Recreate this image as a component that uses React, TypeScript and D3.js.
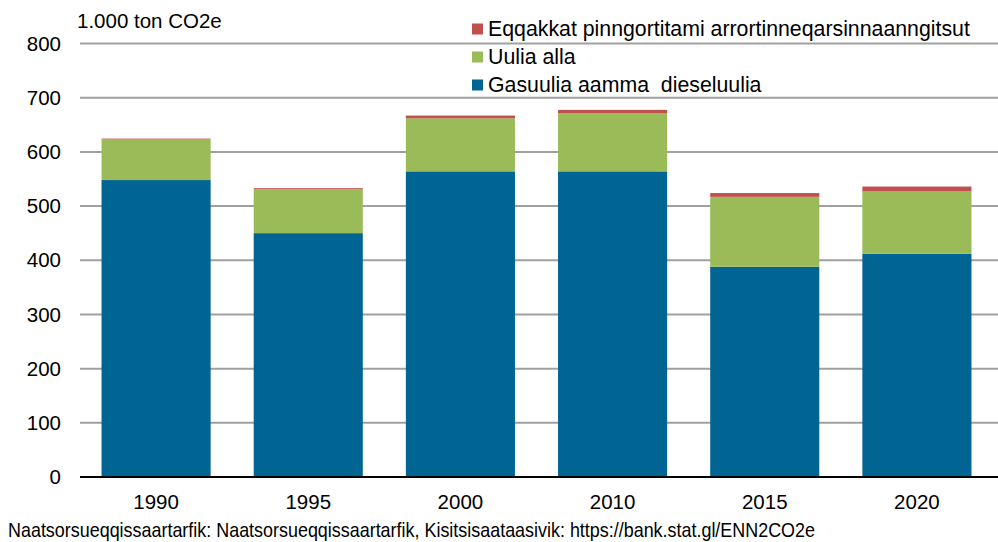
import React from "react";
import * as d3 from "d3";

const years = ["1990", "1995", "2000", "2010", "2015", "2020"];
const gasDiesel = [548, 450, 564, 564, 388, 412];
const otherOil = [75, 81, 98, 107, 129, 115];
const waste = [1.5, 2, 5, 6.5, 7, 9];
const yTicks = [0, 100, 200, 300, 400, 500, 600, 700, 800];

const seriesNames = [
  "Gasuulia aamma  dieseluulia",
  "Uulia alla",
  "Eqqakkat pinngortitami arrortinneqarsinnaanngitsut",
];
const colors = ["#006593", "#9bbb59", "#c0504d"];

const width = 998;
const height = 542;
const font = "'Liberation Sans', Arial, sans-serif";

const App: React.FC = () => {
  const rows = years.map((y, i) => ({
    year: y,
    s0: gasDiesel[i],
    s1: otherOil[i],
    s2: waste[i],
  }));
  const stack = d3.stack<any>().keys(["s0", "s1", "s2"]);
  const stacked = stack(rows);

  const x = d3
    .scaleBand()
    .domain(years)
    .range([80, 993])
    .paddingInner(0.283)
    .paddingOuter(0.1415);
  const y = d3.scaleLinear().domain([0, 800]).range([477, 43.5]);

  return (
    <svg
      width={width}
      height={height}
      style={{ position: "absolute", left: 0, top: 0, background: "#fff" }}
      fontFamily={font}
    >
      {/* gridlines */}
      {yTicks.slice(1).map((t) => (
        <line
          key={t}
          x1={80}
          x2={998}
          y1={y(t)}
          y2={y(t)}
          stroke="#a0a0a0"
          strokeWidth={2}
        />
      ))}
      {/* bars */}
      {stacked.map((layer, li) => (
        <g key={li} fill={colors[li]}>
          {layer.map((d, i) => (
            <rect
              key={i}
              x={x(years[i])}
              width={x.bandwidth()}
              y={y(d[1])}
              height={y(d[0]) - y(d[1])}
            />
          ))}
        </g>
      ))}
      {/* baseline */}
      <line x1={80} x2={998} y1={y(0)} y2={y(0)} stroke="#000" strokeWidth={2} />
      {/* y tick labels */}
      {yTicks.map((t) => (
        <text
          key={t}
          x={61}
          y={y(t)}
          dy="0.35em"
          textAnchor="end"
          fontSize={20.5}
          fill="#000"
        >
          {t}
        </text>
      ))}
      {/* x labels */}
      {years.map((yr) => (
        <text
          key={yr}
          x={(x(yr) as number) + x.bandwidth() / 2}
          y={502}
          dy="0.35em"
          textAnchor="middle"
          fontSize={20.5}
          fill="#000"
        >
          {yr}
        </text>
      ))}
      {/* unit */}
      <text x={77} y={28} fontSize={20.5} fill="#000">
        1.000 ton CO2e
      </text>
      {/* legend */}
      {[2, 1, 0].map((si, r) => (
        <g key={si} transform={`translate(472, ${29 + r * 28})`}>
          <rect x={0} y={-5.5} width={11} height={11} fill={colors[si]} />
          <text
            x={16}
            y={0}
            dy="0.35em"
            fontSize={21.3}
            fill="#000"
            style={{ whiteSpace: "pre" }}
          >
            {seriesNames[si]}
          </text>
        </g>
      ))}
      {/* source */}
      <text
        x={8}
        y={530}
        dy="0.35em"
        fontSize={21}
        fill="#000"
        fontFamily="'Liberation Sans Narrow', 'Arial Narrow', sans-serif"
        textLength={807}
        lengthAdjust="spacingAndGlyphs"
      >
        Naatsorsueqqissaartarfik: Naatsorsueqqissaartarfik, Kisitsisaataasivik: https://bank.stat.gl/ENN2CO2e
      </text>
    </svg>
  );
};

export default App;
